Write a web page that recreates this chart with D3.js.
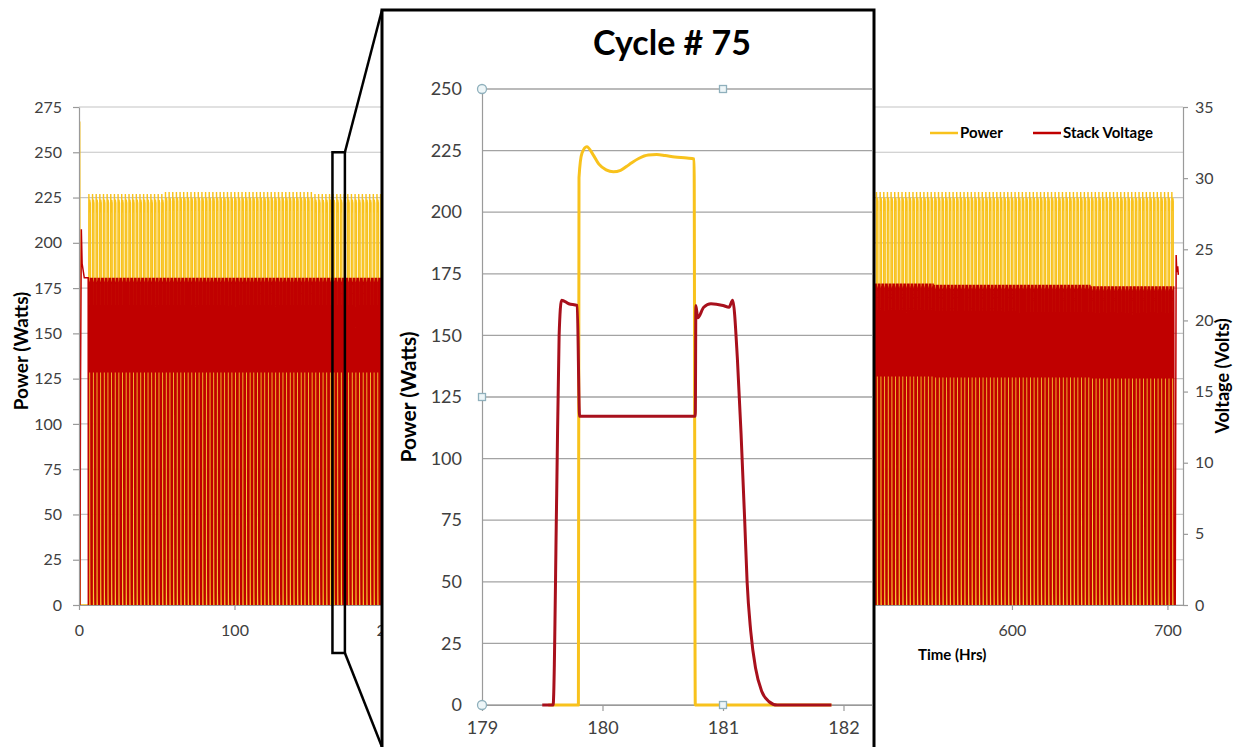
<!DOCTYPE html>
<html>
<head>
<meta charset="utf-8">
<script src="https://cdn.jsdelivr.net/npm/d3@7"></script>
<style>
  body { margin: 0; background: #fff; }
  text { font-family: Lato, "Open Sans", sans-serif; }
</style>
</head>
<body>
<svg id="chart" width="1236" height="747"></svg>
<script>
// ---- data ----
// one measured cycle (cycle # 75, shown in the inset)
const cycleRefStart = 179.5;
const cyclePowerHours = [179.55, 179.80, 179.805, 179.83, 179.87, 179.92, 179.97, 180.03, 180.09, 180.15, 180.22, 180.30, 180.38, 180.45, 180.52, 180.60, 180.70, 180.76, 180.77, 181.90];
const cyclePower      = [0,      0,      214,     224,    226.6,  223.5,  219.5,  217.2,  216.4,  217.0,  219.3,  221.8,  223.2,  223.4,  223.0,  222.4,  222.0,  221.6,  0,      0];
const cycleVoltHours  = [179.50, 179.59, 179.62, 179.64, 179.66, 179.72, 179.79, 179.81, 180.77, 180.775, 180.79, 180.84, 180.90, 181.00, 181.05, 181.08, 181.12, 181.15, 181.18, 181.20, 181.23, 181.27, 181.32, 181.38, 181.45, 181.90];
const cycleVolt       = [0,      0,      12,     21,     23.0,   22.8,   22.7,   16.4,   16.4,   22.7,    22.0,   22.6,   22.8,   22.7,   22.6,   23.0,   19.6,   15.4,   10.5,   7.0,    4.2,    2.1,    0.8,    0.2,    0,      0];

// whole test: cycles repeat from hour 6 to hour 705
const firstCycleStart = 6;
const cyclePeriod = 2.345;
const cycleCount = 298;
const envelopeHours   = [6,     100,   200,   300,   400,   500,   600,   700];
const envelopePeak    = [227,   228,   227,   227,   228,   228,   228,   228];
const envelopeOffVolt = [23.0,  23.0,  23.0,  22.9,  22.8,  22.6,  22.5,  22.4];

// start-up and shut-down spikes
const startPowerHours = [0.0, 0.3, 0.5, 0.8, 5.9];
const startPower      = [0,   0,   267, 0,   0];
const startVoltHours  = [0.6, 1.0, 1.5, 2.0, 3.4, 5.9];
const startVolt       = [0,   16,  26.4, 24.0, 23.0, 23.0];
const endVoltHours    = [705.0, 705.6, 706.0, 706.6, 707.0];
const endVolt         = [0,     24.6,  23.4,  23.8,  23.2];

// ticks
const powerTicks = [0, 25, 50, 75, 100, 125, 150, 175, 200, 225, 250, 275];
const voltTicks = [0, 5, 10, 15, 20, 25, 30, 35];
const timeTicks = [0, 100, 200, 300, 400, 500, 600, 700];
const insetPowerTicks = [0, 25, 50, 75, 100, 125, 150, 175, 200, 225, 250];
const insetTimeTicks = [179, 180, 181, 182];
const legendNames = ["Power", "Stack Voltage"];

const POWER_COLOR = "#F8C21C";
const VOLT_COLOR = "#C00000";
const INSET_VOLT_COLOR = "#A8101C";

const svg = d3.select("#chart");

// ---- main chart ----
const main = { left: 79, right: 1183, top: 107, bottom: 605 };
const x = d3.scaleLinear().domain([0, 710]).range([main.left, main.right]);
const yP = d3.scaleLinear().domain([0, 275]).range([main.bottom, main.top]);
const yV = d3.scaleLinear().domain([0, 35]).range([main.bottom, main.top]);

function nearestReading(h, values) {
  const i = d3.minIndex(envelopeHours, eh => Math.abs(eh - h));
  return values[i];
}

// build the full-run series from the measured cycle
const powerSeries = startPowerHours.map((h, i) => [h, startPower[i]]);
const voltSeries = startVoltHours.map((h, i) => [h, startVolt[i]]);
for (let k = 0; k < cycleCount; k++) {
  const t0 = firstCycleStart + k * cyclePeriod;
  const pk = nearestReading(t0, envelopePeak) / 226.6;
  const vk = nearestReading(t0, envelopeOffVolt) / 23.0;
  cyclePowerHours.forEach((h, i) => {
    const off = h - cycleRefStart;
    if (off < cyclePeriod) powerSeries.push([t0 + off, cyclePower[i] * pk]);
  });
  cycleVoltHours.forEach((h, i) => {
    const off = h - cycleRefStart;
    if (off < cyclePeriod) voltSeries.push([t0 + off, cycleVolt[i] * vk]);
  });
}
endVoltHours.forEach((h, i) => voltSeries.push([h, endVolt[i]]));

// gridlines
svg.append("g")
  .selectAll("line")
  .data(powerTicks)
  .join("line")
  .attr("x1", main.left).attr("x2", main.right)
  .attr("y1", d => yP(d)).attr("y2", d => yP(d))
  .attr("stroke", "#c4c4c4").attr("stroke-width", 1.2);

svg.append("clipPath").attr("id", "mainClip")
  .append("rect")
  .attr("x", main.left).attr("y", main.top - 10)
  .attr("width", main.right - main.left).attr("height", main.bottom - main.top + 12);

const plot = svg.append("g").attr("clip-path", "url(#mainClip)");

plot.append("path")
  .datum(powerSeries)
  .attr("fill", "none")
  .attr("stroke", POWER_COLOR)
  .attr("stroke-width", 1.4)
  .attr("d", d3.line().x(d => x(d[0])).y(d => yP(d[1])));

plot.append("path")
  .datum(voltSeries)
  .attr("fill", "none")
  .attr("stroke", VOLT_COLOR)
  .attr("stroke-width", 1.5)
  .attr("d", d3.line().x(d => x(d[0])).y(d => yV(d[1])));

// axes
function styleAxis(g, size) {
  g.select(".domain").attr("stroke", "#9a9a9a").attr("stroke-width", 1.2);
  g.selectAll(".tick line").attr("stroke", "#9a9a9a").attr("stroke-width", 1.2);
  g.selectAll(".tick text").attr("fill", "#404040")
    .style("font-size", size + "px").style("font-family", "Lato, sans-serif");
}

svg.append("g")
  .attr("transform", `translate(${main.left},0)`)
  .call(d3.axisLeft(yP).tickValues(powerTicks).tickSize(6).tickSizeOuter(0).tickPadding(11))
  .call(g => styleAxis(g, 16));

svg.append("g")
  .attr("transform", `translate(${main.right},0)`)
  .call(d3.axisRight(yV).tickValues(voltTicks).tickSize(5).tickSizeOuter(0).tickPadding(7))
  .call(g => styleAxis(g, 16));

svg.append("g")
  .attr("transform", `translate(0,${main.bottom})`)
  .call(d3.axisBottom(x).tickValues(timeTicks).tickSize(5).tickSizeOuter(0).tickPadding(15))
  .call(g => styleAxis(g, 16));

svg.append("text")
  .attr("transform", `translate(28,${(main.top + main.bottom) / 2 - 5}) rotate(-90)`)
  .attr("text-anchor", "middle")
  .style("font-size", "19px").style("font-weight", "bold")
  .text("Power (Watts)");

svg.append("text")
  .attr("transform", `translate(1229,${(main.top + main.bottom) / 2 + 20}) rotate(-90)`)
  .attr("text-anchor", "middle")
  .style("font-size", "18px").style("font-weight", "bold")
  .text("Voltage (Volts)");

svg.append("text")
  .attr("x", 918).attr("y", 660)
  .style("font-size", "15px").style("font-weight", "bold")
  .text("Time (Hrs)");

// legend
const legend = svg.append("g").attr("transform", "translate(930,133)");
const legendItems = legend.selectAll("g")
  .data(legendNames)
  .join("g")
  .attr("transform", (d, i) => `translate(${i * 103},0)`);
legendItems.append("line")
  .attr("x1", 0).attr("x2", 28)
  .attr("stroke", (d, i) => i === 0 ? POWER_COLOR : VOLT_COLOR)
  .attr("stroke-width", 2.5);
legendItems.append("text")
  .attr("x", 30).attr("dy", "0.35em")
  .style("font-size", "15px").style("font-weight", "bold")
  .text(d => d);

// zoom marker on the main chart, covering the cycle shown in the inset
const zoomHours = [163, 171];
const zoomPower = [-26.5, 250];
svg.append("rect")
  .attr("x", x(zoomHours[0])).attr("y", yP(zoomPower[1]))
  .attr("width", x(zoomHours[1]) - x(zoomHours[0]))
  .attr("height", yP(zoomPower[0]) - yP(zoomPower[1]))
  .attr("fill", "none").attr("stroke", "#000").attr("stroke-width", 2.5);

// ---- inset ----
const box = { left: 382, top: 10, right: 874, bottom: 770 };
svg.append("line")
  .attr("x1", x(zoomHours[1])).attr("y1", yP(zoomPower[1]))
  .attr("x2", box.left).attr("y2", box.top)
  .attr("stroke", "#000").attr("stroke-width", 2.5);
svg.append("line")
  .attr("x1", x(zoomHours[1])).attr("y1", yP(zoomPower[0]))
  .attr("x2", box.left).attr("y2", 747)
  .attr("stroke", "#000").attr("stroke-width", 2.5);

svg.append("rect")
  .attr("x", box.left).attr("y", box.top)
  .attr("width", box.right - box.left).attr("height", box.bottom - box.top)
  .attr("fill", "#fff").attr("stroke", "#000").attr("stroke-width", 3);

svg.append("text")
  .attr("x", 672).attr("y", 55)
  .attr("text-anchor", "middle")
  .style("font-size", "34px").style("font-weight", "bold")
  .text("Cycle # 75");

const inset = { left: 482, right: 964, top: 89, bottom: 705 };
const xi = d3.scaleLinear().domain([179, 183]).range([inset.left, inset.right]);
const yiP = d3.scaleLinear().domain([0, 250]).range([inset.bottom, inset.top]);
const yiV = d3.scaleLinear().domain([0, 35]).range([inset.bottom, inset.top]);

svg.append("clipPath").attr("id", "insetClip")
  .append("rect")
  .attr("x", box.left + 2).attr("y", box.top + 2)
  .attr("width", box.right - box.left - 4).attr("height", box.bottom - box.top);

const ig = svg.append("g").attr("clip-path", "url(#insetClip)");

ig.append("g")
  .selectAll("line")
  .data(insetPowerTicks)
  .join("line")
  .attr("x1", inset.left).attr("x2", inset.right)
  .attr("y1", d => yiP(d)).attr("y2", d => yiP(d))
  .attr("stroke", "#a3a3a3").attr("stroke-width", 1.3);

ig.append("g")
  .attr("transform", `translate(0,${inset.bottom})`)
  .call(d3.axisBottom(xi).tickValues(insetTimeTicks).tickFormat(d3.format("d"))
    .tickSize(6).tickSizeOuter(0).tickPadding(10))
  .call(g => styleAxis(g, 18));

ig.append("g")
  .attr("transform", `translate(${inset.left},0)`)
  .call(d3.axisLeft(yiP).tickValues(insetPowerTicks).tickSize(0).tickSizeOuter(0).tickPadding(20))
  .call(g => styleAxis(g, 18));

ig.append("path")
  .datum(cyclePowerHours.map((h, i) => [h, cyclePower[i]]))
  .attr("fill", "none")
  .attr("stroke", POWER_COLOR)
  .attr("stroke-width", 3)
  .attr("stroke-linejoin", "round")
  .attr("d", d3.line().x(d => xi(d[0])).y(d => yiP(d[1])).curve(d3.curveMonotoneX));

ig.append("path")
  .datum(cycleVoltHours.map((h, i) => [h, cycleVolt[i]]))
  .attr("fill", "none")
  .attr("stroke", INSET_VOLT_COLOR)
  .attr("stroke-width", 3)
  .attr("stroke-linejoin", "round")
  .attr("d", d3.line().x(d => xi(d[0])).y(d => yiV(d[1])).curve(d3.curveMonotoneX));

// selection handles of the inset plot area
const midX = (inset.left + inset.right) / 2;
const midY = (inset.top + inset.bottom) / 2;
[[inset.left, inset.top], [inset.left, inset.bottom]].forEach(([cx, cy]) => {
  ig.append("circle").attr("cx", cx).attr("cy", cy).attr("r", 4.5)
    .attr("fill", "#eef6f8").attr("stroke", "#8fb0bc").attr("stroke-width", 1.3);
});
[[midX, inset.top], [midX, inset.bottom], [inset.left, midY]].forEach(([cx, cy]) => {
  ig.append("rect").attr("x", cx - 3.5).attr("y", cy - 3.5).attr("width", 7).attr("height", 7)
    .attr("fill", "#eef6f8").attr("stroke", "#8fb0bc").attr("stroke-width", 1.3);
});

ig.append("text")
  .attr("transform", `translate(416,${midY}) rotate(-90)`)
  .attr("text-anchor", "middle")
  .style("font-size", "21px").style("font-weight", "bold")
  .text("Power (Watts)");
</script>
</body>
</html>
